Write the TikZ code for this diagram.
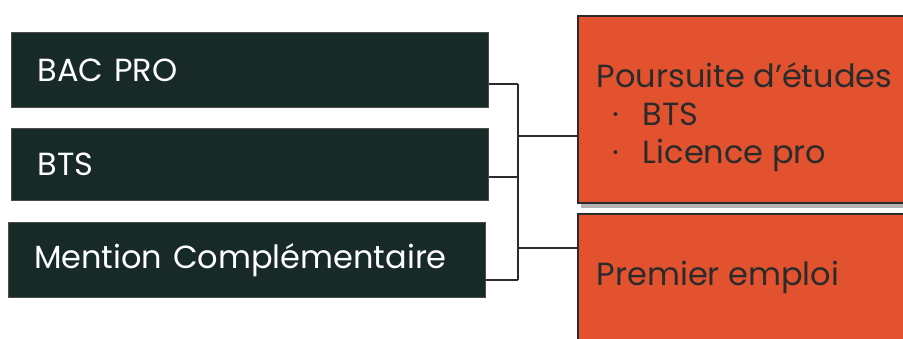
\documentclass[tikz,border=0pt]{standalone}
\usepackage{fontspec}
\setmainfont{Poppins}
\usetikzlibrary{shadows,calc}
\definecolor{pine}{HTML}{172A28}
\definecolor{brick}{HTML}{E2522F}
\definecolor{ink}{HTML}{2B2B2B}
\begin{document}
\begin{tikzpicture}
      [x = 1pt, y = -1pt, line width = 1.8pt,
       track/.style = {fill = pine, draw = gray!60!black, line width = 1.2pt,
         text = white, text width = 425pt, inner xsep = 26pt, align = left,
         anchor = north west, font = \fontsize{32}{38}\selectfont},
       outcome/.style = {fill = brick, draw = ink, line width = 2pt,
         anchor = north west, minimum width = 340pt,
         drop shadow = {shadow xshift = 3pt, shadow yshift = -5pt, opacity = .6}},
       outtext/.style = {text = ink, align = left, inner sep = 0pt,
         anchor = base west, font = \fontsize{32}{38}\selectfont},
       link/.style = {draw = ink, line width = 2pt}]
      \useasboundingbox (0,0) rectangle (903,338);
      \clip (0,0) rectangle (903,338);
      \node[track, minimum height = 75pt] (bac) at (11,32) {BAC PRO};
      \node[track, minimum height = 72pt] (bts) at (11,128) {BTS};
      \node[track, minimum height = 75pt, text width = 426pt,
        inner xsep = 25.5pt] (mc) at (8,222) {Mention Complémentaire};
      \node[outcome, minimum height = 187pt] (pours) at (577,15) {};
      \node[outcome, minimum height = 140pt] (emploi) at (577,213) {};
      % base anchor sits on the last line
      \node[outtext] (poursTxt) at (596,163)
        {Poursuite d’études\\
         \hspace*{16pt}\makebox[30pt][l]{·}BTS\\
         \hspace*{16pt}\makebox[30pt][l]{·}Licence pro};
      \node[outtext] (emploiTxt) at (596,285) {Premier emploi};
      % bus between the two columns
      \coordinate (busTop) at (518,84);
      \coordinate (busBot) at (518,280);
      \draw[link] (busTop) -- (busBot);
      \foreach \src/\yy in {bac/84, bts/177, mc/280}
        \draw[link] (\src.east |- 0,\yy) -- (busTop |- 0,\yy);
      \foreach \dst/\yy in {pours/136, emploi/248}
        \draw[link] (busTop |- 0,\yy) -- (\dst.west |- 0,\yy);
\end{tikzpicture}
\end{document}
